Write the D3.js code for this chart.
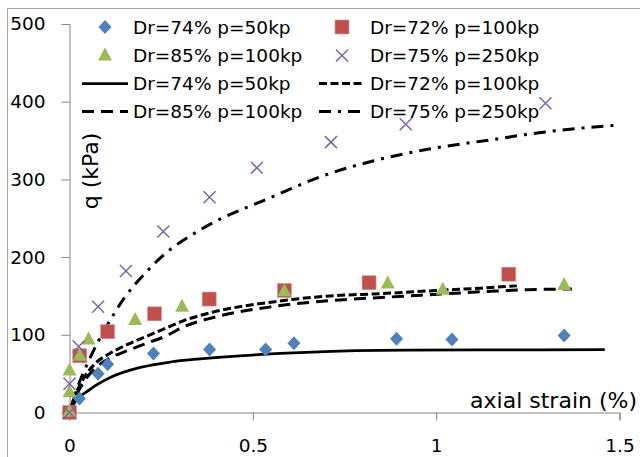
<!DOCTYPE html>
<html><head><meta charset="utf-8">
<script src="https://cdn.jsdelivr.net/npm/d3@7"></script>
<style>
html,body{margin:0;padding:0;background:#fff;}
svg text{font-family:"DejaVu Sans",sans-serif;fill:#000;}
</style>
</head><body>
<svg id="chart" width="640" height="457"></svg>
<script>
// ---- data ----
const xTicks = [0, 0.5, 1, 1.5];
const xTickLabels = ["0", "0.5", "1", "1.5"];
const yTicks = [0, 100, 200, 300, 400, 500];

const seriesNames = ["Dr=74% p=50kp", "Dr=72% p=100kp", "Dr=85% p=100kp", "Dr=75% p=250kp"];

// measured points [axial strain %, q kPa]
const ptsDr74 = [[0,0],[0.027,18],[0.078,50],[0.104,62],[0.229,76],[0.382,81],[0.535,81],[0.612,89],[0.892,95],[1.043,94],[1.349,99]];
const ptsDr72 = [[0,0],[0.028,73],[0.104,104],[0.232,127],[0.381,146],[0.586,157],[0.817,167],[1.198,178]];
const ptsDr85 = [[0,1],[0,26],[0,54],[0.028,73],[0.052,94],[0.179,119],[0.307,136],[0.586,156],[0.868,166],[1.018,158],[1.349,164]];
const ptsDr75 = [[0,0],[0,37],[0.025,85],[0.078,136],[0.154,182],[0.256,233],[0.382,277],[0.511,315],[0.713,348],[0.917,371],[1.298,398]];

// model curves
const lineDr74 = [[0,0],[0.007,7],[0.057,30],[0.111,45],[0.193,58],[0.275,65],[0.356,69],[0.574,76],[0.847,80],[1.12,80.5],[1.46,81]];
const lineDr72 = [[0,0],[0.01,15],[0.04,45],[0.07,63],[0.11,76],[0.16,88],[0.21,98],[0.27,110],[0.31,118],[0.39,129],[0.55,142],[0.71,150],[0.85,153],[1.0,157],[1.12,160],[1.22,163]];
const lineDr85 = [[0,0],[0.01,13],[0.04,40],[0.07,57],[0.11,70],[0.16,80],[0.21,89],[0.27,100],[0.31,110],[0.39,122],[0.55,136],[0.71,144],[0.85,148],[0.96,151],[1.15,156],[1.25,158],[1.37,159]];
const lineDr75 = [[0,0],[0.02,30],[0.05,64],[0.08,93],[0.11,118],[0.15,148],[0.2,176],[0.25,200],[0.36,236],[0.54,275],[0.70,306],[0.83,324],[0.98,339],[1.15,351],[1.28,360],[1.42,367],[1.5,370]];

// ---- drawing ----
const svg = d3.select("#chart");
const x = d3.scaleLinear().domain([0, 1.5]).range([69.5, 619.5]);
const y = d3.scaleLinear().domain([0, 500]).range([412.5, 24]);

// chart border (cropped)
svg.append("path").attr("d", "M7.5,457 L7.5,8.5 L640,8.5").attr("fill", "none").attr("stroke", "#a6a6a6").attr("stroke-width", 1);

// axes
const gx = svg.append("g").attr("transform", `translate(0,${y(0)})`)
  .call(d3.axisBottom(x).tickValues(xTicks).tickFormat((d, i) => xTickLabels[i]).tickSizeOuter(0).tickSize(8).tickPadding(20));
const gy = svg.append("g").attr("transform", `translate(${x(0)},0)`)
  .call(d3.axisLeft(y).tickValues(yTicks).tickSizeOuter(0).tickSize(8).tickPadding(16));
[gx, gy].forEach(g => {
  g.select(".domain").attr("stroke", "#868686");
  g.selectAll(".tick line").attr("stroke", "#868686");
  g.selectAll(".tick text").attr("font-size", 18.5).attr("font-family", "DejaVu Sans").attr("fill", "#000");
});
gx.selectAll(".tick text").attr("dy", "0.32em").attr("y", 34);

// axis titles
svg.append("text").attr("x", 637).attr("y", 408).attr("text-anchor", "end").attr("font-size", 22).text("axial strain (%)");
svg.append("text").attr("transform", "translate(98,171) rotate(-90)").attr("text-anchor", "middle").attr("font-size", 22).text("q (kPa)");

// lines
const lineGen = d3.line().x(d => x(d[0])).y(d => y(d[1])).curve(d3.curveMonotoneX);
const lineStyles = [
  {data: lineDr74, dash: null, w: 2.75},
  {data: lineDr72, dash: "8,3.5", w: 3},
  {data: lineDr85, dash: "12,7", w: 3},
  {data: lineDr75, dash: "12,7,3,7", w: 3}
];
lineStyles.forEach(s => {
  svg.append("path").datum(s.data).attr("d", lineGen).attr("fill", "none")
    .attr("stroke", "#000").attr("stroke-width", s.w).attr("stroke-dasharray", s.dash);
});

// markers
const colors = ["#4F81BD", "#C0504D", "#9BBB59", "#8064A2"];
function marker(g, type, cx, cy) {
  if (type === 0) {
    g.append("path").attr("d", `M${cx},${cy-7}L${cx+6.5},${cy}L${cx},${cy+7}L${cx-6.5},${cy}Z`).attr("fill", colors[0]);
  } else if (type === 1) {
    g.append("rect").attr("x", cx-7).attr("y", cy-7).attr("width", 14).attr("height", 14).attr("fill", colors[1]).attr("stroke", "#d99694").attr("stroke-width", 0.6);
  } else if (type === 2) {
    g.append("path").attr("d", `M${cx},${cy-8}L${cx+7},${cy+5}L${cx-7},${cy+5}Z`).attr("fill", colors[2]);
  } else {
    g.append("path").attr("d", `M${cx-6},${cy-6}L${cx+6},${cy+6}M${cx-6},${cy+6}L${cx+6},${cy-6}`).attr("stroke", colors[3]).attr("stroke-width", 1.5).attr("fill", "none");
  }
}
const mg = svg.append("g");
[ptsDr74, ptsDr72, ptsDr85, ptsDr75].forEach((pts, i) => {
  pts.forEach(p => marker(mg, i, x(p[0]), y(p[1])));
});

// legend
const lg = svg.append("g");
const colX = [105, 342];
const textX = [133, 370];
const rowY = [27, 55.5, 83.5, 111.5];
const baseY = [33.5, 61.8, 90, 118.3];
const markerOrder = [[0, 1], [2, 3]];
markerOrder.forEach((row, r) => row.forEach((si, c) => {
  marker(lg, si, colX[c], rowY[r]);
  lg.append("text").attr("x", textX[c]).attr("y", baseY[r]).attr("font-size", 18.5).text(seriesNames[si]);
}));
const lineOrder = [[0, 1], [2, 3]];
const lineX = [[82, 128], [319, 365]];
lineOrder.forEach((row, r) => row.forEach((si, c) => {
  const s = lineStyles[si];
  lg.append("line").attr("x1", lineX[c][0]).attr("x2", lineX[c][1]).attr("y1", rowY[r+2]).attr("y2", rowY[r+2])
    .attr("stroke", "#000").attr("stroke-width", s.w).attr("stroke-dasharray", s.dash);
  lg.append("text").attr("x", textX[c]).attr("y", baseY[r+2]).attr("font-size", 18.5).text(seriesNames[si]);
}));
</script>
</body></html>
